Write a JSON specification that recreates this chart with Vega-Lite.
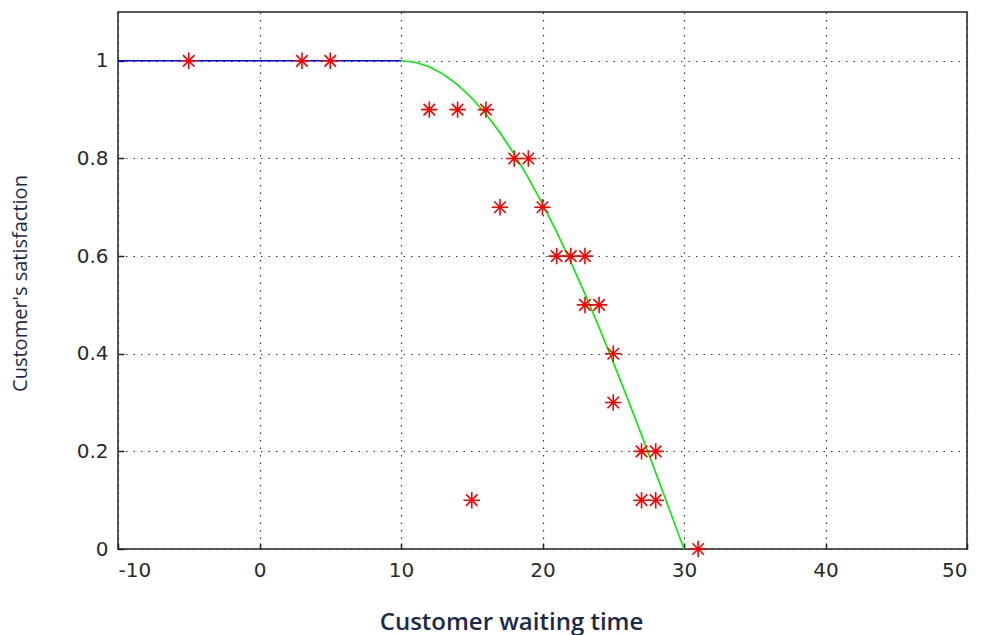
{
  "$schema": "https://vega.github.io/schema/vega-lite/v6.json",
  "autosize": "none",
  "width": 849,
  "height": 537,
  "padding": {"left": 118, "top": 12, "right": 15, "bottom": 86},
  "background": "white",
  "config": {
    "view": {"stroke": "#222", "strokeWidth": 1.5},
    "axis": {
      "labelFont": "DejaVu Sans",
      "labelFontSize": 20,
      "labelColor": "#2a2a2a",
      "labelExpr": "'' + datum.value",
      "titleFont": "Open Sans",
      "titleColor": "#1c2a48",
      "gridColor": "#333",
      "gridDash": [1.5, 6],
      "gridWidth": 1.2,
      "gridOpacity": 1,
      "domain": false,
      "tickColor": "#222",
      "tickSize": -6,
      "tickWidth": 1.5
    }
  },
  "datasets": {
    "flat": [
      {"t": -10, "s": 1},
      {"t": 10, "s": 1}
    ],
    "curve": [
      {"t": 10, "s": 1},
      {"t": 11, "s": 0.99692},
      {"t": 12, "s": 0.98769},
      {"t": 13, "s": 0.97237},
      {"t": 14, "s": 0.95106},
      {"t": 15, "s": 0.92388},
      {"t": 16, "s": 0.89101},
      {"t": 17, "s": 0.85264},
      {"t": 18, "s": 0.80902},
      {"t": 19, "s": 0.76041},
      {"t": 20, "s": 0.70711},
      {"t": 21, "s": 0.64945},
      {"t": 22, "s": 0.58779},
      {"t": 23, "s": 0.5225},
      {"t": 24, "s": 0.45399},
      {"t": 25, "s": 0.38268},
      {"t": 26, "s": 0.30902},
      {"t": 27, "s": 0.23345},
      {"t": 28, "s": 0.15643},
      {"t": 29, "s": 0.07846},
      {"t": 30, "s": 0}
    ],
    "obs": [
      {"t": -5, "s": 1},
      {"t": 3, "s": 1},
      {"t": 5, "s": 1},
      {"t": 12, "s": 0.9},
      {"t": 14, "s": 0.9},
      {"t": 16, "s": 0.9},
      {"t": 18, "s": 0.8},
      {"t": 19, "s": 0.8},
      {"t": 17, "s": 0.7},
      {"t": 20, "s": 0.7},
      {"t": 21, "s": 0.6},
      {"t": 22, "s": 0.6},
      {"t": 23, "s": 0.6},
      {"t": 23, "s": 0.5},
      {"t": 24, "s": 0.5},
      {"t": 25, "s": 0.4},
      {"t": 25, "s": 0.3},
      {"t": 27, "s": 0.2},
      {"t": 28, "s": 0.2},
      {"t": 27, "s": 0.1},
      {"t": 28, "s": 0.1},
      {"t": 15, "s": 0.1},
      {"t": 31, "s": 0}
    ]
  },
  "layer": [
    {
      "data": {"name": "flat"},
      "mark": {"type": "line", "color": "#0000ff", "strokeWidth": 1.6},
      "encoding": {
        "x": {
          "field": "t", "type": "quantitative",
          "scale": {"domain": [-10, 50], "nice": false, "zero": false},
          "axis": {"values": [-10, 0, 10, 20, 30, 40, 50], "labelPadding": 17, "title": "Customer waiting time", "titleFontSize": 24, "titleFontWeight": 600, "titlePadding": 30, "titleX": 393}
        },
        "y": {
          "field": "s", "type": "quantitative",
          "scale": {"domain": [0, 1.1], "nice": false},
          "axis": {"values": [0, 0.2, 0.4, 0.6, 0.8, 1], "labelPadding": 16, "title": "Customer's satisfaction", "titleFontSize": 20, "titleFontWeight": "normal", "titlePadding": 46, "titleY": 271}
        }
      }
    },
    {
      "data": {"name": "curve"},
      "mark": {"type": "line", "color": "#00ee00", "strokeWidth": 1.6},
      "encoding": {
        "x": {"field": "t", "type": "quantitative"},
        "y": {"field": "s", "type": "quantitative"}
      }
    },
    {
      "data": {"name": "obs"},
      "mark": {
        "type": "point",
        "shape": "M-1,0L1,0M0,-1L0,1M-0.7,-0.7L0.7,0.7M-0.7,0.7L0.7,-0.7",
        "filled": false,
        "color": "#ff0000",
        "size": 270,
        "strokeWidth": 1.6,
        "opacity": 1,
        "clip": false
      },
      "encoding": {
        "x": {"field": "t", "type": "quantitative"},
        "y": {"field": "s", "type": "quantitative"}
      }
    }
  ]
}
